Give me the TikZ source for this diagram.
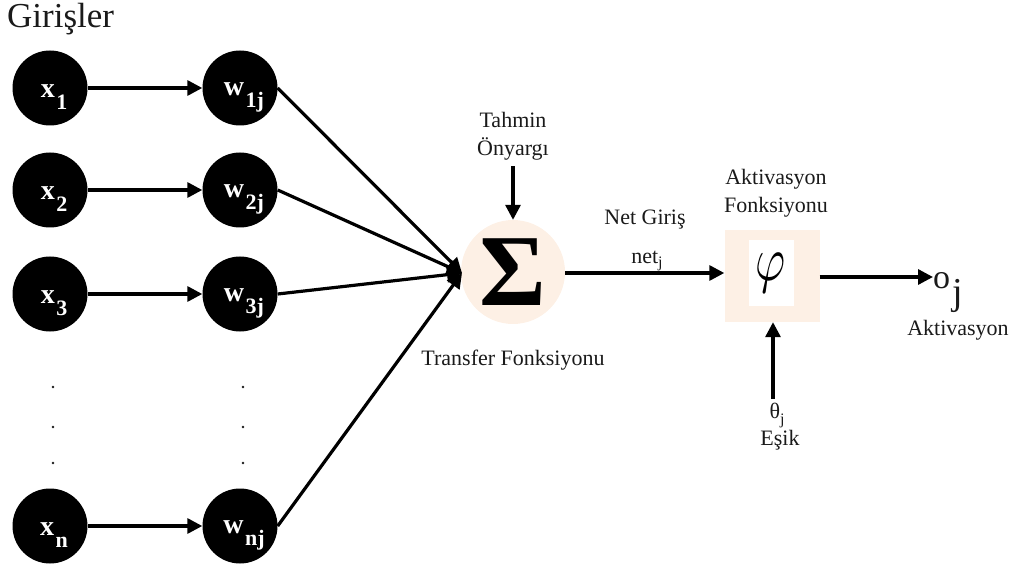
\documentclass[tikz,border=0pt]{standalone}
\usepackage{fontspec}
\setmainfont{Liberation Serif}
\usetikzlibrary{arrows.meta}
\definecolor{peach}{HTML}{FDF0E5}
\definecolor{txt}{HTML}{1A1A1A}
\newcommand\nodelab[2]{\textbf{#1}\kern1.5pt\raisebox{-12pt}{\fontsize{22}{22}\selectfont\textbf{#2}}}
\begin{document}
\begin{tikzpicture}[x=1pt,y=-1pt,
  neuron/.style={circle,fill=black,minimum size=75pt,inner sep=0pt},
  arr/.style={line width=3.2pt,-{Triangle[length=15pt,width=15pt]}},
  lbl/.style={font=\fontsize{22}{28}\selectfont,text=txt,inner sep=0pt,align=center},
  nlab/.style={text=white,font=\fontsize{28}{28}\selectfont,inner sep=0pt},
  dotmark/.style={fill=txt}
]
\useasboundingbox (0,0) rectangle (1014,569);

% title
\node[anchor=base west,inner sep=0pt,text=txt,font=\fontsize{35}{35}\selectfont] (title) at (7,28) {Girişler};

% input and weight neurons
\foreach \n/\s/\y in {1/1/88,2/2/190,3/3/294,n/n/526}{
  \node[neuron,label={[nlab,xshift=4pt,yshift=-9pt]center:\nodelab{x}{\s}}] (x\n) at (50,\y) {};
  \node[neuron,label={[nlab,xshift=4pt,yshift=-9pt]center:\nodelab{w}{\s j}}] (w\n) at (240,\y) {};
  \draw[arr] (x\n) -- (w\n);
}

% dots
\foreach \y in {387,427,463}{
  \fill[dotmark] (53,\y) circle (1.4pt);
  \fill[dotmark] (243,\y) circle (1.4pt);
}

% summation
\node[circle,fill=peach,minimum size=104pt,inner sep=0pt,font=\fontsize{102}{102}\selectfont\bfseries] (sum) at (513,272) {Σ};
\coordinate (sin) at (462,273);
\foreach \n in {1,2,3,n}{
  \draw[arr] (w\n.east) -- (sin);
}

% bias
\node[lbl] (bias) at (513,136) {Tahmin\\Önyargı};
\draw[arr] (bias.south) ++(0,6) -- (sum.north);

\node[lbl] (transfer) at (513,360) {Transfer Fonksiyonu};

% activation box
\node[fill=peach,minimum width=95pt,minimum height=92pt,inner sep=0pt] (phi) at (772,276) {};
\node[fill=white,minimum width=45pt,minimum height=65pt,inner sep=0pt] (phiin) at (771,273) {\scalebox{4.6}[6.3]{$\varphi$}};
\node[lbl] (actf) at (776,193) {Aktivasyon\\Fonksiyonu};

% net input
\node[lbl] (netg) at (645,220) {Net Giriş};
\node[lbl,anchor=base] (netj) at (647,263) {net\raisebox{-5pt}{\fontsize{16}{16}\selectfont j}};
\draw[arr] (sum.east |- 0,273) -- (phi.west |- 0,273);

% output
\node[anchor=base west,inner sep=0pt,text=txt,font=\fontsize{34}{34}\selectfont] (oj) at (933,288) {o\kern2pt\raisebox{-16pt}{\fontsize{38}{38}\selectfont j}};
\draw[arr] (phi.east |- 0,277) -- (oj.west |- 0,277);
\node[lbl] (acto) at (958,330) {Aktivasyon};

% threshold
\node[lbl,anchor=north] (th) at (777,403) {θ\raisebox{-6pt}{\fontsize{16}{16}\selectfont j}};
\node[lbl] (esik) at (780,440) {Eşik};
\coordinate (thtop) at (773,399);
\draw[arr] (thtop) -- (thtop |- phi.south);
\end{tikzpicture}
\end{document}
